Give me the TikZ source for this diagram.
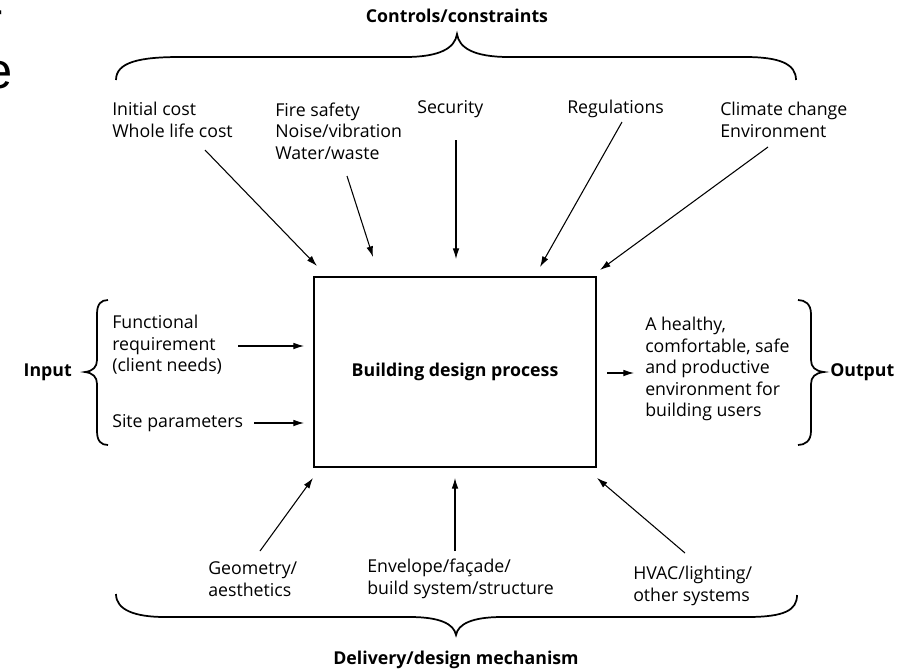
\documentclass[tikz,border=0pt]{standalone}
\usepackage{fontspec}
\setmainfont{Open Sans}
\newfontfamily\slidefont{Liberation Sans}
\usetikzlibrary{arrows.meta}

\begin{document}
\begin{tikzpicture}[x=0.75pt, y=-0.75pt,
        txt/.style={anchor=west, align=left, inner sep=0pt, font=\fontsize{13.3}{16.2}\selectfont},
        head/.style={inner sep=0pt, font=\bfseries\fontsize{13.3}{16}\selectfont},
        arr/.style={-{Latex[length=8pt,width=5pt]}, line width=0.8pt},
        brc/.style={line width=1.3pt}]
        \useasboundingbox (0,0) rectangle (899,669);

        % Cut-off slide text at the left edge
        \node (fragr) at (3,36) [anchor=base east, inner sep=0pt, font=\slidefont\fontsize{36}{36}\selectfont] {r};
        \node (frage) at (13,88) [anchor=base east, inner sep=0pt, font=\slidefont\fontsize{38}{38}\selectfont] {e};

        % Nodes
        \node (box) at (455,372) [draw, line width=1.6pt, minimum width=211.5pt, minimum height=142.5pt, font=\bfseries\fontsize{13.3}{16}\selectfont] {Building design process};

        \node (controls) at (457,16) [head] {Controls/constraints};
        \node (costs) at (112,120) [txt] {Initial cost\\Whole life cost};
        \node (fire) at (275,131) [txt] {Fire safety\\Noise/vibration\\Water/waste};
        \node (security) at (417,109) [txt] {Security};
        \node (regs) at (567,109) [txt] {Regulations};
        \node (climate) at (720,120) [txt] {Climate change\\Environment};

        \node (input) at (72,372) [head, anchor=east] {Input};
        \node (func) at (112,345) [txt] {Functional\\requirement\\(client needs)};
        \node (site) at (112,423) [txt] {Site parameters};

        \node (healthy) at (645,369) [txt] {A healthy,\\comfortable, safe\\and productive\\environment for\\building users};
        \node (output) at (830,372) [head, anchor=west] {Output};

        \node (geometry) at (208,579) [txt] {Geometry/\\aesthetics};
        \node (envelope) at (367,579) [txt] {Envelope/façade/\\build system/structure};
        \node (hvac) at (633,586) [txt] {HVAC/lighting/\\other systems};
        \node (delivery) at (456,660) [head] {Delivery/design mechanism};

        % Arrow ends
        \coordinate (costsA) at (205,150);   \coordinate (costsB) at (317,266);
        \coordinate (fireA) at (347,176);    \coordinate (fireB) at (373,257);
        \coordinate (secA) at (456,140);     \coordinate (secB) at (456,259);
        \coordinate (regsA) at (622,122);    \coordinate (regsB) at (540,267);
        \coordinate (climA) at (768,147);    \coordinate (climB) at (600,270);
        \coordinate (funcA) at (238,346);    \coordinate (funcB) at (304,346);
        \coordinate (siteA) at (254,423);    \coordinate (siteB) at (304,423);
        \coordinate (outA) at (607,373);     \coordinate (outB) at (634,373);
        \coordinate (geoA) at (260,551);     \coordinate (geoB) at (313,478);
        \coordinate (envA) at (455,551);     \coordinate (envB) at (455,478);
        \coordinate (hvacA) at (685,553);    \coordinate (hvacB) at (597,478);

        % Edges
        \draw[arr] (costsA) -- (costsB);
        \draw[arr] (fireA) -- (fireB);
        \draw[arr] (secA) -- (secB);
        \draw[arr] (regsA) -- (regsB);
        \draw[arr] (climA) -- (climB);
        \draw[arr] (funcA) -- (funcB);
        \draw[arr] (siteA) -- (siteB);
        \draw[arr] (outA) -- (outB);
        \draw[arr] (geoA) -- (geoB);
        \draw[arr] (envA) -- (envB);
        \draw[arr] (hvacA) -- (hvacB);

        % Braces
        \draw[brc] (116,80) .. controls (116,62) and (140,57) .. (180,57) -- (405,57)
            .. controls (440,57) and (455,48) .. (457,34)
            .. controls (459,48) and (474,57) .. (509,57) -- (745,57)
            .. controls (780,57) and (796,64) .. (796,80);
        \draw[brc] (116,594) .. controls (116,610) and (135,617) .. (165,617) -- (410,617)
            .. controls (440,617) and (454,624) .. (456,635)
            .. controls (458,624) and (472,617) .. (502,617) -- (747,617)
            .. controls (785,617) and (797,610) .. (797,595);
        \draw[brc] (108,300) .. controls (101,300) and (97,304) .. (97,314) -- (97,360)
            .. controls (97,367) and (93,371) .. (85,372)
            .. controls (93,373) and (97,377) .. (97,384) -- (97,431)
            .. controls (97,441) and (101,445) .. (108,445);
        \draw[brc] (798,300) .. controls (805,300) and (811,304) .. (811,314) -- (811,360)
            .. controls (811,367) and (815,371) .. (824,372)
            .. controls (815,373) and (811,377) .. (811,384) -- (811,431)
            .. controls (811,441) and (805,445) .. (798,445);
\end{tikzpicture}
\end{document}
